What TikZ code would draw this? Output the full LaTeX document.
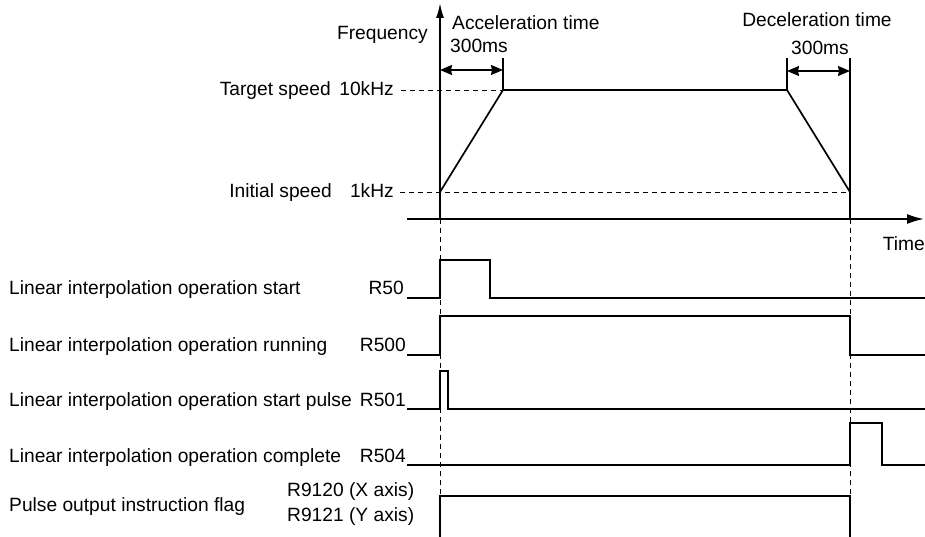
\documentclass[tikz,border=0pt]{standalone}
\usepackage{fontspec}
\setmainfont{Liberation Sans}
\usetikzlibrary{arrows.meta}
\begin{document}
\begin{tikzpicture}[x=1pt,y=-1pt,
  sig/.style={line width=1.7pt},
  axis/.style={line width=1.8pt},
  thin/.style={line width=1.2pt},
  guide/.style={line width=0.9pt, dash pattern=on 5pt off 4pt},
  dim/.style={line width=1.4pt,{Stealth[length=12pt,width=10pt,inset=1pt]}-{Stealth[length=12pt,width=10pt,inset=1pt]}},
  lbl/.style={anchor=base west, inner sep=0pt, font=\fontsize{19.2}{23}\selectfont},
  rlbl/.style={anchor=base east, inner sep=0pt, font=\fontsize{19.2}{23}\selectfont},
  clbl/.style={anchor=base, inner sep=0pt, font=\fontsize{19.2}{23}\selectfont}]
\useasboundingbox (0,0) rectangle (925,537);
% key points
\coordinate (O) at (440,219);
\coordinate (ytop) at (440,3);
\coordinate (xs) at (407,219);
\coordinate (xe) at (924,219);
\coordinate (A) at (440,192);
\coordinate (B) at (503,90);
\coordinate (C) at (787,90);
\coordinate (D) at (850,192);
\coordinate (E) at (850,219);
\coordinate (Bt) at (503,58);
\coordinate (Ct) at (787,58);
\coordinate (Dt) at (850,58);
\coordinate (tk) at (401,90);
\coordinate (ik) at (400,192);
\coordinate (g1) at (440,537);
\coordinate (g2) at (850,537);
% guides
\draw[guide] (tk) -- (B);
\draw[guide] (ik) -- (D);
\draw[guide] (O) -- (g1);
\draw[guide] (E) -- (g2);
% axes
\draw[axis,-{Latex[length=15pt,width=8pt]}] (O) -- (ytop);
\draw[axis,-{Latex[length=17pt,width=10pt]}] (xs) -- (xe);
% profile
\draw[sig,line join=miter] (A) -- (B) -- (C) -- (D) -- (E);
\draw[thin] (Bt) -- (B);
\draw[thin] (Ct) -- (C);
\draw[thin] (Dt) -- (D);
\draw[dim] (440,70) -- (503,70);
\draw[dim] (787,71) -- (850,71);
% labels top
\node[rlbl] (freq) at (428,40) {Frequency};
\node[lbl] (acc) at (452,30) {Acceleration time};
\node[lbl] (acct) at (450,53) {300ms};
\node[clbl] (dec) at (817,27) {Deceleration time};
\node[clbl] (dect) at (820,55) {300ms};
\node[rlbl] (ts) at (331,96) {Target speed};
\node[rlbl] (tsv) at (394,96) {10kHz};
\node[rlbl] (is) at (332,198) {Initial speed};
\node[rlbl] (isv) at (394,198) {1kHz};
\node[rlbl] (time) at (925,250) {Time};
% signals
\draw[sig] (407,298) -| (440,260) -| (490,298) -- (925,298);
\draw[sig] (407,355) -| (440,316) -| (850,355) -- (925,355);
\draw[sig] (407,409) -| (440,371) -| (448,409) -- (925,409);
\draw[sig] (407,465) -| (850,423) -| (882,465) -- (925,465);
\draw[sig] (g1) |- (850,496) -- (g2);
% signal labels
\node[lbl] (n1) at (9,294) {Linear interpolation operation start};
\node[rlbl] (r1) at (404,294) {R50};
\node[lbl] (n2) at (9,351) {Linear interpolation operation running};
\node[rlbl] (r2) at (406,351) {R500};
\node[lbl] (n3) at (9,406) {Linear interpolation operation start pulse};
\node[rlbl] (r3) at (406,406) {R501};
\node[lbl] (n4) at (9,462) {Linear interpolation operation complete};
\node[rlbl] (r4) at (406,462) {R504};
\node[lbl] (n5) at (9,511) {Pulse output instruction flag};
\node[lbl] (r5) at (287,496) {R9120 (X axis)};
\node[lbl] (r6) at (287,521) {R9121 (Y axis)};
\end{tikzpicture}
\end{document}
